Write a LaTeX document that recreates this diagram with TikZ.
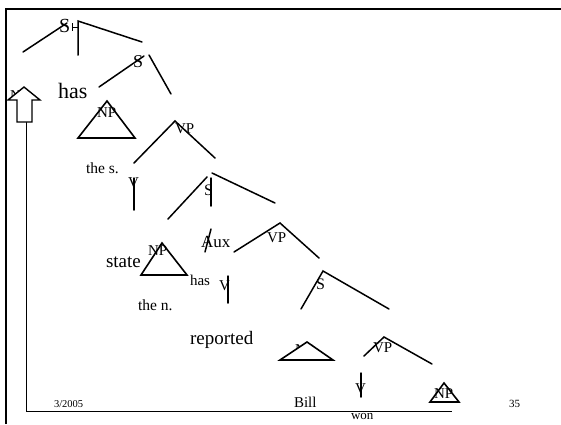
\documentclass[tikz,border=0pt]{standalone}
\usepackage{fontspec}
\setmainfont{Liberation Serif}
\begin{document}
\begin{tikzpicture}[x=1pt,y=-1pt,
  lbl/.style={anchor=base west,inner sep=0pt,outer sep=0pt},
  br/.style={line width=1.5pt,line cap=round},
  tri/.style={line width=1.6pt,line join=miter},
  frame/.style={line width=2.6pt},
  thin/.style={line width=0.9pt}]
\useasboundingbox (0,0) rectangle (561,424);
% frame
\draw[frame] (6,424) -- (6,9) -- (561,9);
\draw[thin] (26,122) -- (26,411) -- (452,411);
% text nodes
\node[lbl,font=\fontsize{20}{20}\selectfont] (s1) at (59,32) {S};
\node[lbl,font=\fontsize{22}{22}\selectfont] (has1) at (58,98) {has};
\node[lbl,font=\fontsize{18}{18}\selectfont] (s2) at (133,67) {S};
\node[lbl,font=\fontsize{15}{15}\selectfont] (np0) at (10,100) {NP};
\node[lbl,font=\fontsize{15}{15}\selectfont] (np1) at (97,117) {NP};
\node[lbl,font=\fontsize{15}{15}\selectfont] (vp1) at (175,133) {VP};
\node[lbl,font=\fontsize{15.5}{15.5}\selectfont] (thes) at (86,173) {the s.};
\node[lbl,font=\fontsize{15}{15}\selectfont] (v1) at (128,187) {V};
\node[lbl,font=\fontsize{16}{16}\selectfont] (s3) at (204,195) {S};
\node[lbl,font=\fontsize{19}{19}\selectfont] (state) at (106,267) {state};
\node[lbl,font=\fontsize{15}{15}\selectfont] (np2) at (148,255) {NP};
\node[lbl,font=\fontsize{17}{17}\selectfont] (aux) at (201,247) {Aux};
\node[lbl,font=\fontsize{15}{15}\selectfont] (vp2) at (267,242) {VP};
\node[lbl,font=\fontsize{15}{15}\selectfont] (has2) at (190,285) {has};
\node[lbl,font=\fontsize{15}{15}\selectfont] (v2) at (219,290) {V};
\node[lbl,font=\fontsize{15.5}{15.5}\selectfont] (then) at (138,310) {the n.};
\node[lbl,font=\fontsize{16}{16}\selectfont] (s4) at (316,289) {S};
\node[lbl,font=\fontsize{19}{19}\selectfont] (rep) at (190,344) {reported};
\node[lbl,font=\fontsize{15}{15}\selectfont] (np3) at (295,354) {NP};
\node[lbl,font=\fontsize{15}{15}\selectfont] (vp3) at (373,352) {VP};
\node[lbl,font=\fontsize{15}{15}\selectfont] (v3) at (355,393) {V};
\node[lbl,font=\fontsize{15}{15}\selectfont] (np4) at (434,398) {NP};
\node[lbl,font=\fontsize{15}{15}\selectfont] (bill) at (294,407) {Bill};
\node[lbl,font=\fontsize{13}{13}\selectfont] (won) at (351,419) {won};
\node[lbl,font=\fontsize{10.5}{10.5}\selectfont] (date) at (54,407) {3/2005};
\node[lbl,font=\fontsize{11}{11}\selectfont] (page) at (509,407) {35};
% branches
\draw[br] (23,52) -- (67,23);
\draw[br] (78,55) -- (78,21) -- (142,42);
\draw[line width=1pt] (72,23) -- (72,31) (72,27) -- (78,27);
\draw[br] (99,87) -- (144,56);
\draw[br] (149,55) -- (171,94);
\draw[tri] (107,101) -- (78,138) -- (135,138) -- cycle;
\draw[br] (134,163) -- (175,121) -- (215,158);
\draw[br] (134,178) -- (134,210);
\draw[br] (168,219) -- (207,177);
\draw[br] (211,178) -- (211,206);
\draw[br] (212,173) -- (275,203);
\draw[br] (211,229) -- (205,252);
\draw[br] (234,252) -- (280,223) -- (319,258);
\draw[tri] (162,243) -- (141,275) -- (187,275) -- cycle;
\draw[br] (228,276) -- (228,303);
\draw[br] (301,309) -- (323,271) -- (389,309);
\draw[tri,fill=white] (307,342) -- (280,360) -- (333,360) -- cycle;
\draw[br] (364,356) -- (384,337) -- (432,364);
\draw[br] (361,373) -- (361,397);
\draw[tri] (444,383) -- (430,402) -- (459,402) -- cycle;
% block arrow
\draw[line width=1.4pt,fill=white,line join=miter]
  (17,122) -- (17,100) -- (8,100) -- (24,87) -- (40,100) -- (32,100) -- (32,122) -- cycle;
\end{tikzpicture}
\end{document}
